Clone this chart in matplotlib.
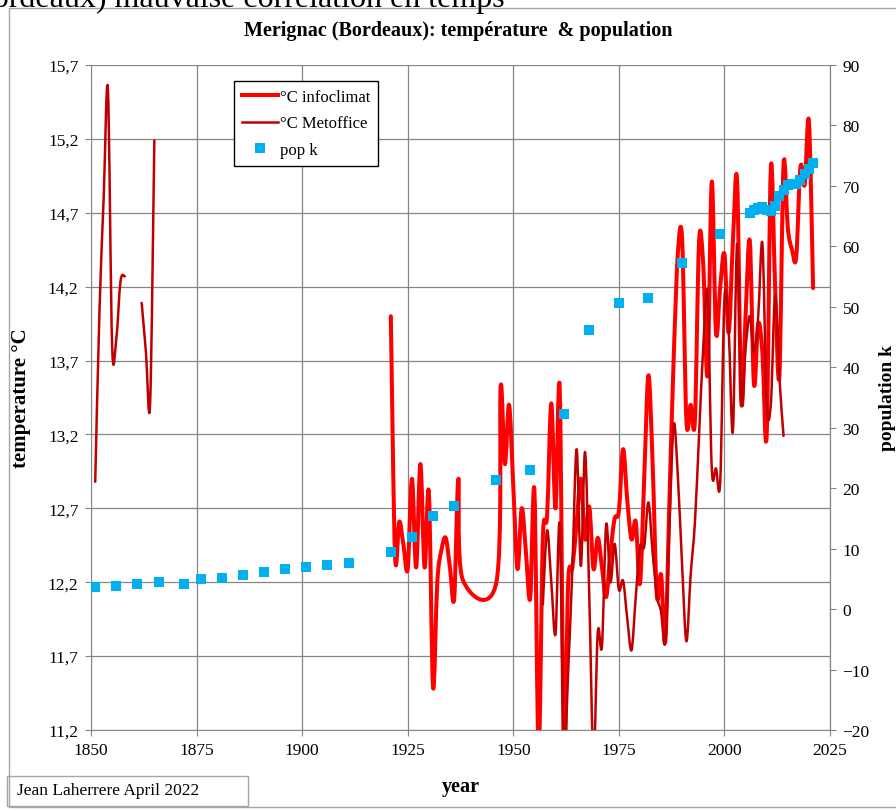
import numpy as np
import matplotlib
matplotlib.use("Agg")
import matplotlib.pyplot as plt
from matplotlib.path import Path
from matplotlib.patches import PathPatch, Rectangle
from matplotlib.lines import Line2D
from matplotlib.ticker import FuncFormatter

plt.rcParams['font.family'] = ['Liberation Serif', 'DejaVu Serif']

# --- data ---
info_years = [1921, 1922, 1923, 1924, 1925, 1926, 1927, 1928, 1929, 1930,
              1931, 1932, 1933, 1934, 1935, 1936, 1937, 1938, 1946, 1947,
              1948, 1949, 1950, 1951, 1952, 1953, 1954, 1955, 1956, 1957,
              1958, 1959, 1960, 1961, 1962, 1963, 1964, 1965, 1966, 1967,
              1968, 1969, 1970, 1971, 1972, 1973, 1974, 1975, 1976, 1977,
              1978, 1979, 1980, 1981, 1982, 1983, 1984, 1985, 1986, 1987,
              1988, 1989, 1990, 1991, 1992, 1993, 1994, 1995, 1996, 1997,
              1998, 1999, 2000, 2001, 2002, 2003, 2004, 2005, 2006, 2007,
              2008, 2009, 2010, 2011, 2012, 2013, 2014, 2015, 2016, 2017,
              2018, 2019, 2020, 2021]
info_temp = [14.00, 12.38, 12.61, 12.45, 12.29, 12.90, 12.30, 13.00, 12.30, 12.81,
             11.49, 12.20, 12.42, 12.50, 12.30, 12.09, 12.90, 12.22, 12.20, 13.52,
             13.00, 13.40, 12.85, 12.29, 12.70, 12.40, 12.09, 12.82, 11.05, 12.50,
             12.65, 13.41, 12.70, 13.51, 11.05, 12.20, 12.30, 12.60, 12.90, 12.49,
             12.71, 12.29, 12.50, 12.30, 12.10, 12.40, 12.63, 12.68, 13.10, 12.75,
             12.49, 12.61, 12.19, 12.90, 13.60, 13.00, 12.11, 12.25, 11.80, 12.78,
             13.73, 14.44, 14.51, 13.29, 13.40, 13.29, 14.51, 14.34, 13.60, 14.91,
             13.89, 14.20, 14.42, 13.89, 14.50, 14.92, 13.42, 14.00, 14.51, 13.54,
             13.95, 13.75, 13.19, 15.01, 14.20, 13.59, 15.03, 14.60, 14.45, 14.40,
             15.01, 14.89, 15.32, 14.19]

# Metoffice: three separate runs (gaps in the record)
met_years_a = [1851, 1852, 1853, 1854, 1855, 1856, 1857, 1858]
met_temp_a = [12.88, 14.03, 14.80, 15.54, 13.80, 13.85, 14.24, 14.27]
met_years_b = [1862, 1863, 1864, 1865]
met_temp_b = [14.09, 13.76, 13.41, 15.19]
met_years_c = list(range(1957, 2015))
met_temp_c = [12.05, 12.55, 12.20, 11.85, 12.59, 11.05, 11.60, 12.30, 13.10, 12.31,
              13.08, 12.10, 11.00, 11.86, 11.77, 12.59, 12.20, 12.46, 12.15, 12.21,
              11.95, 11.74, 12.10, 12.44, 12.44, 12.74, 12.40, 12.11, 12.00, 11.80,
              12.60, 13.27, 12.90, 12.30, 11.80, 12.25, 12.60, 13.20, 13.80, 14.15,
              12.97, 12.97, 12.88, 14.12, 13.91, 13.22, 14.49, 13.41, 13.78, 14.00,
              13.76, 14.00, 14.49, 13.41, 13.41, 14.14, 13.59, 13.19]

pop_years = [1851, 1856, 1861, 1866, 1872, 1876, 1881, 1886, 1891, 1896, 1901,
             1906, 1911, 1921, 1926, 1931, 1936, 1946, 1954, 1962, 1968, 1975,
             1982, 1990, 1999, 2006, 2007, 2008, 2009, 2010, 2011, 2012, 2013,
             2014, 2015, 2016, 2017, 2018, 2019, 2020, 2021]
pop_k = [3.6, 3.9, 4.2, 4.4, 4.2, 5.0, 5.1, 5.6, 6.1, 6.7, 6.9,
         7.3, 7.6, 9.4, 11.9, 15.4, 17.0, 21.3, 23.0, 32.3, 46.2, 50.6,
         51.5, 57.2, 62.0, 65.5, 66.0, 66.3, 66.5, 66.0, 65.8, 66.7, 68.3,
         69.3, 70.1, 70.3, 70.3, 71.0, 72.0, 72.8, 73.8]

x_ticks = [1850, 1875, 1900, 1925, 1950, 1975, 2000, 2025]
t_ticks = [11.2, 11.7, 12.2, 12.7, 13.2, 13.7, 14.2, 14.7, 15.2, 15.7]
p_ticks = [-20, -10, 0, 10, 20, 30, 40, 50, 60, 70, 80, 90]

RED = '#FF0000'
DARK = '#C00000'
BLUE = '#00B0F0'
GRID = '#868686'


def smooth_path(xs, ys):
    # Excel-like smoothed line: cubic Bezier through the points
    pts = np.column_stack([xs, ys]).astype(float)
    n = len(pts)
    verts = [pts[0]]
    codes = [Path.MOVETO]
    for i in range(n - 1):
        p0 = pts[i - 1] if i > 0 else pts[i]
        p1 = pts[i]
        p2 = pts[i + 1]
        p3 = pts[i + 2] if i + 2 < n else pts[i + 1]
        verts += [p1 + (p2 - p0) / 6, p2 - (p3 - p1) / 6, p2]
        codes += [Path.CURVE4] * 3
    return Path(verts, codes)


W, H = 896, 812
fig = plt.figure(figsize=(W / 100, H / 100), dpi=100)


def fx(px):
    return px / W


def fy(py):
    return 1 - py / H


# outer chart frame and clipped text above it
fig.patches.append(Rectangle((fx(9), fy(808)), fx(900) - fx(9), fy(9) - fy(808),
                             transform=fig.transFigure, fill=False,
                             edgecolor='#A6A6A6', lw=1))
fig.text(fx(505), fy(7), "Merignac (Bordeaux) mauvaise corrélation en temps",
         ha='right', va='baseline', fontsize=23)

ax = fig.add_axes([fx(91), fy(731), fx(830) - fx(91), fy(66) - fy(731)])
ax.set_xlim(1850, 2025)
ax.set_ylim(11.2, 15.7)
ax.set_xticks(x_ticks)
ax.set_yticks(t_ticks)
ax.yaxis.set_major_formatter(FuncFormatter(lambda v, p: f"{v:.1f}".replace('.', ',')))
ax.grid(True, color=GRID, lw=0.9)
ax.set_axisbelow(True)
for s in ax.spines.values():
    s.set_color(GRID)
ax.spines['top'].set_visible(False)
ax.tick_params(axis='both', direction='out', length=4, color=GRID,
               labelsize=12.5, pad=5)

ax.add_patch(PathPatch(smooth_path(info_years, info_temp), fill=False,
                       edgecolor=RED, lw=2.9, capstyle='round', joinstyle='round'))
for yrs, tmp in [(met_years_a, met_temp_a), (met_years_b, met_temp_b),
                 (met_years_c, met_temp_c)]:
    ax.add_patch(PathPatch(smooth_path(yrs, tmp), fill=False,
                           edgecolor=DARK, lw=1.8, capstyle='round', joinstyle='round'))

ax.set_ylabel("temperature °C", fontsize=15, fontweight='bold')
ax.yaxis.set_label_coords(-(91 - 31) / 739, 0.5)
ax.set_xlabel("year", fontsize=14.5, fontweight='bold')
ax.xaxis.set_label_coords(0.5, -(777 - 731) / 665)

ax2 = ax.twinx()
ax2.set_ylim(-20, 90)
ax2.set_yticks(p_ticks)
ax2.plot(pop_years, pop_k, ls='none', marker='s', markersize=6.8,
         color=BLUE, markeredgewidth=0)
for s in ax2.spines.values():
    s.set_visible(False)
ax2.spines['right'].set_visible(True)
ax2.spines['right'].set_color(GRID)
ax2.tick_params(axis='y', direction='out', length=4, color=GRID,
                labelsize=12.5, pad=5)
ax2.set_ylabel("population k", fontsize=14, fontweight='bold', rotation=90)
ax2.yaxis.set_label_coords((879 - 91) / 739, 0.5)

fig.text(fx(458), fy(31), "Merignac (Bordeaux): température  & population",
         ha='center', va='center', fontsize=14.5, fontweight='bold')

handles = [Line2D([], [], color=RED, lw=2.9),
           Line2D([], [], color=DARK, lw=1.8),
           Line2D([], [], ls='none', marker='s', markersize=6.8, color=BLUE,
                  markeredgewidth=0)]
leg = ax2.legend(handles, ["°C infoclimat", "°C Metoffice", "pop k"],
                 loc='upper left', bbox_to_anchor=((234 - 91) / 739, (731 - 82) / 665),
                 borderaxespad=0, fancybox=False, framealpha=1, fontsize=12,
                 handlelength=2.2, handletextpad=0.1, labelspacing=0.65,
                 borderpad=0.45)
leg.get_frame().set_edgecolor('black')
leg.get_frame().set_linewidth(1.0)

# author box
fig.patches.append(Rectangle((fx(7), fy(807)), fx(248) - fx(7), fy(777) - fy(807),
                             transform=fig.transFigure, fill=False,
                             edgecolor='#A6A6A6', lw=1))
fig.text(fx(17), fy(791), "Jean Laherrere April 2022", ha='left', va='center',
         fontsize=12.5)

fig.savefig("out.png", dpi=100)
